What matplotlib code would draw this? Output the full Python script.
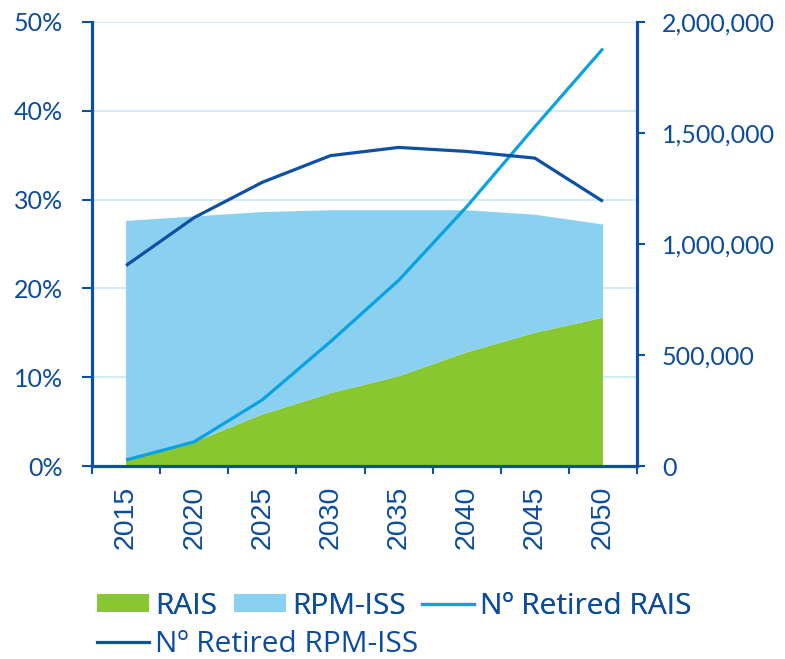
"""Shares of RAIS / RPM-ISS with number of retirees on a second axis."""

import numpy as np
import matplotlib.pyplot as plt
from matplotlib.patches import Patch
from matplotlib.lines import Line2D
from matplotlib.ticker import FuncFormatter, MultipleLocator

YEARS = ["2015", "2020", "2025", "2030", "2035", "2040", "2045", "2050"]
RAIS_SHARE = [0.6, 2.7, 5.8, 8.2, 10.1, 12.8, 15.0, 16.7]        # %
RPM_ISS_SHARE = [27.0, 25.4, 22.8, 20.6, 18.7, 16.0, 13.3, 10.5]  # %, stacked on RAIS
RETIRED_RAIS = [27000, 109000, 298000, 560000, 836000, 1168000, 1528000, 1880000]
RETIRED_RPM_ISS = [903000, 1119000, 1278000, 1398000, 1435000, 1417000, 1387000, 1192000]

NAVY = "#0d4fa2"
TEXT = "#0b4c9c"
GREEN = "#89c731"
SKY = "#89d0f1"
CYAN = "#0aa2e2"
GRID = "#c8e8f8"

fig = plt.figure(figsize=(7.85, 6.59), dpi=100)
ax = fig.add_axes([92 / 785, 1 - 466 / 659, (637 - 92) / 785, (466 - 22) / 659])
ax2 = ax.twinx()

x = np.arange(len(YEARS))
ax.stackplot(x, np.array(RAIS_SHARE) / 100, np.array(RPM_ISS_SHARE) / 100,
             colors=[GREEN, SKY], linewidth=0, zorder=2)
ax2.plot(x, RETIRED_RAIS, color=CYAN, lw=2.3, solid_capstyle="butt")
ax2.plot(x, RETIRED_RPM_ISS, color=NAVY, lw=2.3, solid_capstyle="butt")

ax.set_xlim(-0.5, len(YEARS) - 0.5)
ax.set_ylim(0, 0.5)
ax2.set_ylim(0, 2000000)

ax.yaxis.set_major_locator(MultipleLocator(0.1))
ax.yaxis.set_major_formatter(FuncFormatter(lambda v, p: f"{v * 100:.0f}%"))
ax2.yaxis.set_major_locator(MultipleLocator(500000))
ax2.yaxis.set_major_formatter(FuncFormatter(lambda v, p: f"{v:,.0f}"))

ax.grid(axis="y", color=GRID, lw=1.2, zorder=0)
ax.set_axisbelow(True)

# category labels at the centres, tick marks on the boundaries
ax.set_xticks(x)
ax.set_xticklabels(YEARS, rotation=90, family="Liberation Sans", fontsize=20.5, color=TEXT)
ax.set_xticks(np.arange(-0.5, len(YEARS)), minor=True)
ax.tick_params(axis="x", which="major", length=0, pad=14)
ax.tick_params(axis="x", which="minor", length=6, width=1.5, color=NAVY)

ax.tick_params(axis="y", length=7, width=1.5, color=NAVY, pad=14, labelcolor=TEXT)
ax2.tick_params(axis="y", length=6, width=1.5, color=NAVY, pad=12, labelcolor=TEXT)
for lab in ax.get_yticklabels() + ax2.get_yticklabels():
    lab.set_family("Lato")
    lab.set_fontsize(18)

for a in (ax, ax2):
    a.spines["top"].set_visible(False)
    for s in ("left", "right", "bottom"):
        a.spines[s].set_color(NAVY)
        a.spines[s].set_linewidth(2.3)
ax.spines["right"].set_visible(False)
ax2.spines["left"].set_visible(False)
ax2.spines["bottom"].set_visible(False)

legend_font = {"family": "Open Sans", "size": 21.5}
row1 = [Patch(color=GREEN, lw=0), Patch(color=SKY, lw=0), Line2D([], [], color=CYAN, lw=2.3)]
leg1 = fig.legend(row1, ["RAIS", "RPM-ISS", "Nº Retired RAIS"], ncol=3, loc="center left",
                  bbox_to_anchor=(97 / 785, 1 - 606 / 659), frameon=False, prop=legend_font,
                  handlelength=1.75, handleheight=0.58, handletextpad=0.2, columnspacing=0.55,
                  borderpad=0, borderaxespad=0, labelcolor=TEXT)
fig.add_artist(leg1)
fig.legend([Line2D([], [], color=NAVY, lw=2.3)], ["Nº Retired RPM-ISS"], loc="center left",
           bbox_to_anchor=(97 / 785, 1 - 645 / 659), frameon=False, prop=legend_font,
           handlelength=1.75, handletextpad=0.2, borderpad=0, borderaxespad=0, labelcolor=TEXT)

fig.savefig("out.png", dpi=100)
